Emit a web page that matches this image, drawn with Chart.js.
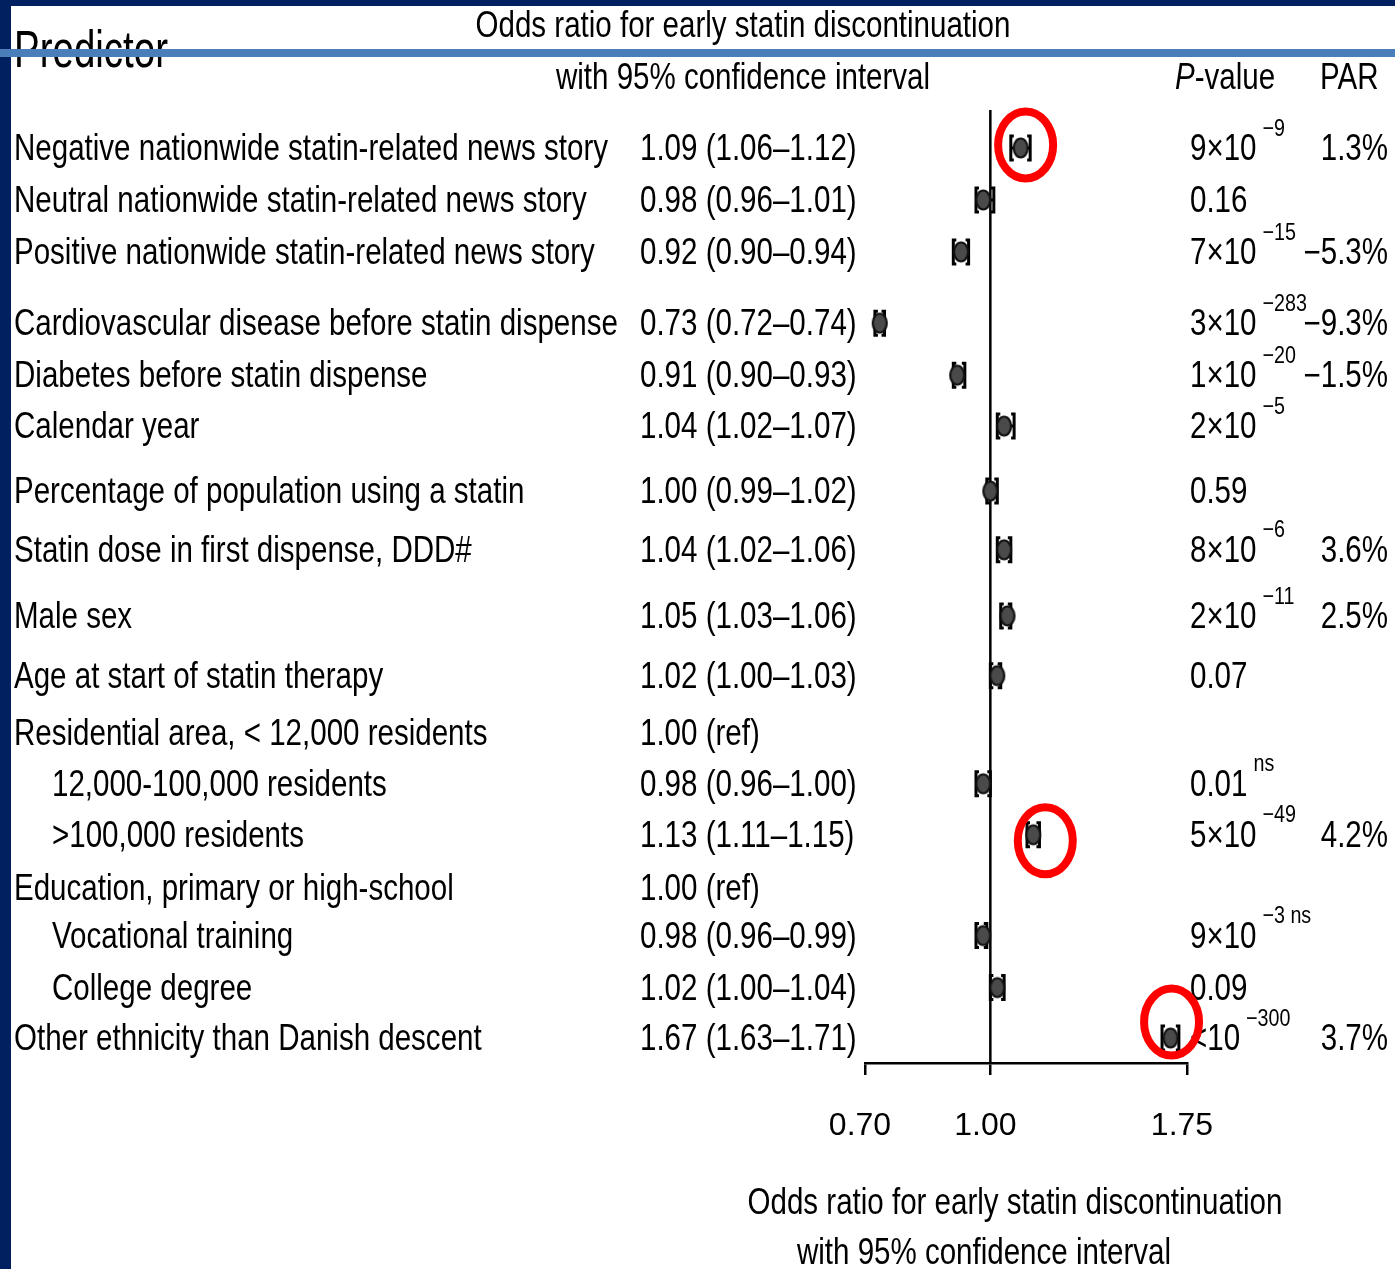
<!DOCTYPE html>
<html>
<head>
<meta charset="utf-8">
<script src="https://cdn.jsdelivr.net/npm/chart.js@4.4.1/dist/chart.umd.min.js"></script>
<style>
html, body { margin: 0; padding: 0; background: #fff; }
#forest { display: block; }
</style>
</head>
<body>
<canvas id="forest" width="1395" height="1269"></canvas>
<script>
/* data */
var predictors = [
    'Negative nationwide statin-related news story',
    'Neutral nationwide statin-related news story',
    'Positive nationwide statin-related news story',
    'Cardiovascular disease before statin dispense',
    'Diabetes before statin dispense',
    'Calendar year',
    'Percentage of population using a statin',
    'Statin dose in first dispense, DDD#',
    'Male sex',
    'Age at start of statin therapy',
    'Residential area, < 12,000 residents',
    '12,000-100,000 residents',
    '>100,000 residents',
    'Education, primary or high-school',
    'Vocational training',
    'College degree',
    'Other ethnicity than Danish descent'
];
var subGroup = [false, false, false, false, false, false, false, false, false, false,
                false, true, true, false, true, true, false];
var oddsRatio = [1.09, 0.98, 0.92, 0.73, 0.91, 1.04, 1.00, 1.04, 1.05, 1.02, 1.00, 0.98, 1.13, 1.00, 0.98, 1.02, 1.67];
var ciLow     = [1.06, 0.96, 0.90, 0.72, 0.90, 1.02, 0.99, 1.02, 1.03, 1.00, null, 0.96, 1.11, null, 0.96, 1.00, 1.63];
var ciHigh    = [1.12, 1.01, 0.94, 0.74, 0.93, 1.07, 1.02, 1.06, 1.06, 1.03, null, 1.00, 1.15, null, 0.99, 1.04, 1.71];
var pMain = ['9\u00d710', '0.16', '7\u00d710', '3\u00d710', '1\u00d710', '2\u00d710', '0.59', '8\u00d710', '2\u00d710', '0.07',
             '', '0.01', '5\u00d710', '', '9\u00d710', '0.09', '<10'];
var pExp  = ['\u22129', '', '\u221215', '\u2212283', '\u221220', '\u22125', '', '\u22126', '\u221211', '',
             '', 'ns', '\u221249', '', '\u22123 ns', '', '\u2212300'];
var parText = ['1.3%', '', '\u22125.3%', '\u22129.3%', '\u22121.5%', '', '', '3.6%', '2.5%', '',
               '', '', '4.2%', '', '', '', '3.7%'];
var xTicks = [0.70, 1.00, 1.75];
var highlighted = [0, 12, 16];

/* layout: row positions in row units (the figure is not evenly spaced) */
var rowPos = [0, 1, 2, 3.37, 4.37, 5.35, 6.6, 7.73, 9.0, 10.15, 11.25, 12.23, 13.21, 14.23, 15.15, 16.15, 17.12];
var ringShift = [[5, -3], [12, 6], [1, -16]];

var FONT = '"Liberation Sans", Arial, Helvetica, sans-serif';
var SQUEEZE = 0.82;
var FS = 36;

function ciText(i){
    if(ciLow[i] == null) return oddsRatio[i].toFixed(2) + ' (ref)';
    return oddsRatio[i].toFixed(2) + ' (' + ciLow[i].toFixed(2) + '\u2013' + ciHigh[i].toFixed(2) + ')';
}

/* draws condensed text, returns its width */
function txt(ctx, s, x, y, size, opts){
    opts = opts || {};
    var sx = opts.sx || SQUEEZE;
    ctx.save();
    ctx.font = (opts.italic ? 'italic ' : '') + size + 'px ' + FONT;
    ctx.fillStyle = '#000';
    ctx.textBaseline = 'middle';
    ctx.textAlign = opts.align || 'left';
    ctx.translate(x, y);
    ctx.scale(sx, 1);
    ctx.fillText(s, 0, 0);
    var w = ctx.measureText(s).width * sx;
    ctx.restore();
    return w;
}

function makeDot(){
    var c = document.createElement('canvas');
    c.width = 18; c.height = 24;
    var g = c.getContext('2d');
    g.beginPath();
    g.ellipse(9, 12, 7, 9.5, 0, 0, Math.PI * 2);
    g.fillStyle = '#4a4a4a';
    g.fill();
    g.lineWidth = 2.2;
    g.strokeStyle = '#111';
    g.stroke();
    return c;
}

var points = [];
for(var i = 0; i < oddsRatio.length; i++){
    if(ciLow[i] != null) points.push({x: oddsRatio[i], y: rowPos[i]});
}

/* background, frame strips, reference line, CI brackets, table text */
var framePlugin = {
    id: 'frame',
    beforeDraw: function(chart){
        var ctx = chart.ctx;
        ctx.save();
        ctx.fillStyle = '#fff';
        ctx.fillRect(0, 0, chart.width, chart.height);
        ctx.fillStyle = '#002060';
        ctx.fillRect(0, 0, 11, chart.height);
        ctx.fillRect(0, 0, chart.width, 6);
        ctx.restore();
    },
    beforeDatasetsDraw: function(chart){
        var ctx = chart.ctx, xs = chart.scales.x, ys = chart.scales.y, area = chart.chartArea;
        ctx.save();
        ctx.strokeStyle = '#000';
        ctx.lineWidth = 2.5;
        var x0 = xs.getPixelForValue(1);
        ctx.beginPath();
        ctx.moveTo(x0, area.top);
        ctx.lineTo(x0, area.bottom);
        ctx.stroke();

        ctx.lineWidth = 3;
        for(var i = 0; i < oddsRatio.length; i++){
            if(ciLow[i] == null) continue;
            var y = ys.getPixelForValue(rowPos[i]);
            var x1 = xs.getPixelForValue(ciLow[i]);
            var x2 = xs.getPixelForValue(ciHigh[i]);
            ctx.beginPath();
            ctx.moveTo(x1, y); ctx.lineTo(x2, y);
            ctx.moveTo(x1 + 3, y - 12); ctx.lineTo(x1, y - 12); ctx.lineTo(x1, y + 12); ctx.lineTo(x1 + 3, y + 12);
            ctx.moveTo(x2 - 3, y - 12); ctx.lineTo(x2, y - 12); ctx.lineTo(x2, y + 12); ctx.lineTo(x2 - 3, y + 12);
            ctx.stroke();
        }
        ctx.restore();
    },
    afterDraw: function(chart){
        var ctx = chart.ctx, xs = chart.scales.x, ys = chart.scales.y;

        /* headers */
        txt(ctx, 'Odds ratio for early statin discontinuation', 743, 27, FS, {align: 'center'});
        txt(ctx, 'with 95% confidence interval', 743, 79, FS, {align: 'center'});
        txt(ctx, 'Predictor', 14, 53, 52, {sx: 0.74});
        var pw = txt(ctx, 'P', 1175, 79, FS, {italic: true});
        txt(ctx, '-value', 1175 + pw, 79, FS);
        txt(ctx, 'PAR', 1320, 79, FS);

        /* table columns */
        for(var i = 0; i < predictors.length; i++){
            var y = ys.getPixelForValue(rowPos[i]) + 2;
            txt(ctx, predictors[i], subGroup[i] ? 52 : 14, y, FS);
            txt(ctx, ciText(i), 640, y, FS);
            if(pMain[i]){
                var w = txt(ctx, pMain[i], 1190, y, FS);
                if(pExp[i]) txt(ctx, pExp[i], 1190 + w + 6, y - 21, 24);
            }
            if(parText[i]) txt(ctx, parText[i], 1388, y, FS, {align: 'right'});
        }

        /* axis title */
        txt(ctx, 'Odds ratio for early statin discontinuation', 1015, 1204, FS, {align: 'center'});
        txt(ctx, 'with 95% confidence interval', 984, 1254, FS, {align: 'center'});

        /* slide rule over the header */
        ctx.save();
        ctx.fillStyle = '#4a7ebb';
        ctx.fillRect(0, 49, chart.width, 8);

        /* red rings */
        ctx.strokeStyle = '#ff0000';
        ctx.lineWidth = 8;
        for(var k = 0; k < highlighted.length; k++){
            var r = highlighted[k];
            var cx = xs.getPixelForValue(oddsRatio[r]) + ringShift[k][0];
            var cy = ys.getPixelForValue(rowPos[r]) + ringShift[k][1];
            ctx.beginPath();
            ctx.ellipse(cx, cy, 27.5, 33.5, 0, 0, Math.PI * 2);
            ctx.stroke();
        }
        ctx.restore();
    }
};

var ctx = document.getElementById('forest');
var forestChart = new Chart(ctx, {
    type: 'scatter',
    data: {
        datasets: [{
            data: points,
            pointStyle: makeDot(),
            pointRadius: 9,
            showLine: false
        }]
    },
    options: {
        responsive: false,
        animation: false,
        layout: { padding: { left: 865, right: 208, top: 110, bottom: 0 } },
        plugins: { legend: { display: false }, tooltip: { enabled: false } },
        scales: {
            x: {
                type: 'logarithmic',
                min: 0.70,
                max: 1.75,
                afterBuildTicks: function(scale){
                    scale.ticks = xTicks.map(function(v){ return {value: v}; });
                },
                afterFit: function(scale){ scale.height = 206; },
                ticks: {
                    callback: function(v){ return Number(v).toFixed(2); },
                    autoSkip: false,
                    maxRotation: 0,
                    padding: 32,
                    labelOffset: -5,
                    color: '#000',
                    font: { family: FONT, size: 32 }
                },
                grid: { drawOnChartArea: false, drawTicks: true, tickLength: 12, color: '#000', lineWidth: 2.5 },
                border: { display: true, color: '#000', width: 2.5 }
            },
            y: {
                type: 'linear',
                display: false,
                reverse: true,
                min: -0.73,
                max: 17.6
            }
        }
    },
    plugins: [framePlugin]
});
</script>
</body>
</html>
